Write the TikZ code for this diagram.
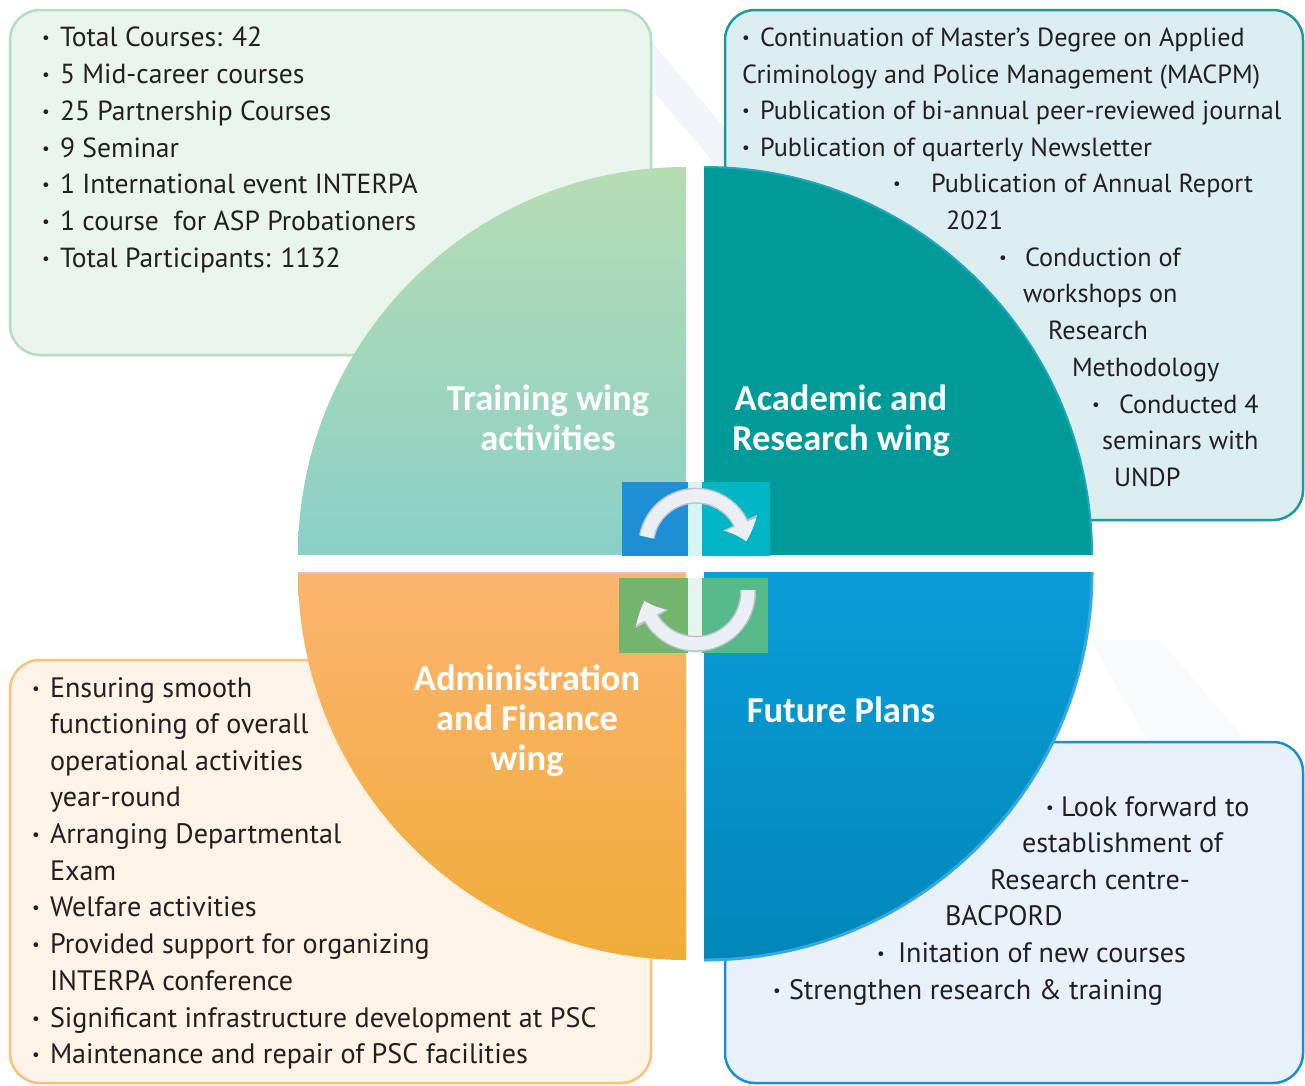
\documentclass[tikz,border=0pt]{standalone}
\usepackage{fontspec}
\setmainfont{PT Sans}
\newfontfamily\ttlfont{Carlito}
\usetikzlibrary{arrows.meta,bending}
\definecolor{ink}{HTML}{231F20}
\definecolor{streak}{HTML}{F1F5FA}
\definecolor{tlfill}{HTML}{E8F4EC}\definecolor{tlline}{HTML}{B3DCC0}
\definecolor{trfill}{HTML}{DCEDF0}\definecolor{trline}{HTML}{1A9A9C}
\definecolor{blfill}{HTML}{FDF3E6}\definecolor{blline}{HTML}{F9C27A}
\definecolor{brfill}{HTML}{E8F1FA}\definecolor{brline}{HTML}{1A8FD0}
\definecolor{qtltop}{HTML}{B6DCB3}\definecolor{qtlbot}{HTML}{8AD0C6}
\definecolor{qtr}{HTML}{009A99}\definecolor{qtrrim}{HTML}{1FA8BC}
\definecolor{qbltop}{HTML}{FBB46E}\definecolor{qblbot}{HTML}{F0AC38}\definecolor{qblrim}{HTML}{F7B9B0}
\definecolor{qbrtop}{HTML}{0A9DD8}\definecolor{qbrbot}{HTML}{0087B8}\definecolor{qbrrim}{HTML}{38A9E0}
\definecolor{sqblue}{HTML}{1E8FD5}\definecolor{sqcyan}{HTML}{00B5C5}
\definecolor{sqgreenA}{HTML}{72B56E}\definecolor{sqgreenB}{HTML}{55B98A}
\definecolor{arrowcol}{HTML}{EBEFF3}\definecolor{arrowedge}{HTML}{B9C3CC}
\newcommand\bulnode[3]{\node[body] (#1) at (#2,#3) {\raisebox{2.5pt}{\fontsize{17}{17}\selectfont •}};}
\begin{document}
\begin{tikzpicture}[x=1pt,y=-1pt,
  body/.style={anchor=base west, inner sep=0pt, outer sep=0pt, text=ink, font=\fontsize{27.6}{30}\selectfont},
  tlsz/.style={font=\fontsize{27.6}{30}\selectfont},
  trsz/.style={font=\fontsize{26.2}{30}\selectfont},
  blsz/.style={font=\fontsize{28.1}{30}\selectfont},
  brsz/.style={font=\fontsize{28.1}{30}\selectfont},
  ttl/.style={anchor=base, inner sep=0pt, text=white, font=\ttlfont\fontsize{36.5}{40}\selectfont\bfseries},
  infobox/.style={rounded corners=30pt, line width=2.5pt},
  arr/.style={line width=13pt, draw=arrowcol, -{Triangle[width=32pt,length=18pt,bend]}},
  arredge/.style={line width=16pt, draw=arrowedge, -{Triangle[width=36pt,length=20pt,bend]}}]
\useasboundingbox (0,0) rectangle (1305,1085);
\fill[white] (0,0) rectangle (1305,1085);
% faint background streaks
\fill[streak] (610,40) -- (650,40) -- (760,170) -- (720,170) -- cycle;
\fill[streak!50] (1090,640) -- (1160,640) -- (1250,745) -- (1150,745) -- cycle;
% info boxes
\draw[infobox, fill=tlfill, draw=tlline] (10,10) rectangle (651,355);
\draw[infobox, fill=trfill, draw=trline] (725,10) rectangle (1303,520);
\draw[infobox, fill=blfill, draw=blline] (10,660) rectangle (651,1083);
\draw[infobox, fill=brfill, draw=brline] (725,742) rectangle (1303,1083);
% quadrants
\shade[top color=qtltop, bottom color=qtlbot] (686,555) -- (298,555) arc[start angle=180, end angle=270, radius=388] -- cycle;
\fill[qtr] (704,555) -- (704,167) arc[start angle=270, end angle=360, radius=388] -- cycle;
\draw[qtrrim, line width=2pt] (704,167) arc[start angle=270, end angle=360, radius=388];
\shade[top color=qbltop, bottom color=qblbot] (686,572) -- (686,960) arc[start angle=90, end angle=180, radius=388] -- cycle;
\draw[qblrim, line width=2pt] (299,573) -- (686,573);
\shade[top color=qbrtop, bottom color=qbrbot] (704,572) -- (1092,572) arc[start angle=0, end angle=90, radius=388] -- cycle;
\draw[qbrrim, line width=3pt] (1092,572) arc[start angle=0, end angle=90, radius=388];
% centre squares
\fill[sqblue] (622,482) rectangle (688,556);
\fill[sqcyan] (702,482) rectangle (770,556);
\fill[white!85!sqcyan] (688,482) rectangle (702,556);
\fill[sqgreenA] (619,578) rectangle (688,653);
\fill[sqgreenB] (702,578) rectangle (768,653);
\fill[white!85!sqgreenB] (688,578) rectangle (702,653);
% cycle arrows
\coordinate (atop) at (646.8,537);
\coordinate (abot) at (748,590);
\draw[arredge] (atop) arc[start angle=190, end angle=355, radius=50];
\draw[arr] (atop) arc[start angle=190, end angle=355, radius=50];
\draw[arredge] (abot) arc[start angle=-2, end angle=170, radius=52];
\draw[arr] (abot) arc[start angle=-2, end angle=170, radius=52];
% titles
\node[ttl] (t1a) at (548,410) {Training wing};
\node[ttl] (t1b) at (548,450) {activities};
\node[ttl] (t2a) at (841,410) {Academic and};
\node[ttl] (t2b) at (841,450) {Research wing};
\node[ttl] (t3a) at (527,690) {Administration};
\node[ttl] (t3b) at (527,730) {and Finance};
\node[ttl] (t3c) at (527,770) {wing};
\node[ttl] (t4a) at (841,722) {Future Plans};
% top-left text
\bulnode{tlb1}{42}{46}\node[body,tlsz] (tl1) at (60,46) {Total Courses: 42};
\bulnode{tlb2}{42}{83}\node[body,tlsz] (tl2) at (60,83) {5 Mid-career courses};
\bulnode{tlb3}{42}{120}\node[body,tlsz] (tl3) at (60,120) {25 Partnership Courses};
\bulnode{tlb4}{42}{157}\node[body,tlsz] (tl4) at (60,157) {9 Seminar};
\bulnode{tlb5}{42}{193}\node[body,tlsz] (tl5) at (60,193) {1 International event INTERPA};
\bulnode{tlb6}{42}{230}\node[body,tlsz] (tl6) at (60,230) {1 course\ \ for ASP Probationers};
\bulnode{tlb7}{42}{267}\node[body,tlsz] (tl7) at (60,267) {Total Participants: 1132};
% top-right text
\bulnode{trb1}{742}{46}\node[body,trsz] (tr1) at (760,46) {Continuation of Master’s Degree on Applied};
\node[body,trsz] (tr2) at (742,83) {Criminology and Police Management (MACPM)};
\bulnode{trb3}{742}{119}\node[body,trsz] (tr3) at (760,119) {Publication of bi-annual peer-reviewed journal};
\bulnode{trb4}{742}{156}\node[body,trsz] (tr4) at (760,156) {Publication of quarterly Newsletter};
\bulnode{trb5}{893}{192}\node[body,trsz] (tr5) at (931,192) {Publication of Annual Report};
\node[body,trsz] (tr6) at (946,229) {2021};
\bulnode{trb7}{999}{266}\node[body,trsz] (tr7) at (1025,266) {Conduction of};
\node[body,trsz] (tr8) at (1023,302) {workshops on};
\node[body,trsz] (tr9) at (1048,339) {Research};
\node[body,trsz] (tr10) at (1072,376) {Methodology};
\bulnode{trb11}{1092}{413}\node[body,trsz] (tr11) at (1119,413) {Conducted 4};
\node[body,trsz] (tr12) at (1102,449) {seminars with};
\node[body,trsz] (tr13) at (1114,486) {UNDP};
% bottom-left text
\bulnode{blb1}{32}{697}\node[body,blsz] (bl1) at (50,697) {Ensuring smooth};
\node[body,blsz] (bl2) at (50,733) {functioning of overall};
\node[body,blsz] (bl3) at (50,770) {operational activities};
\node[body,blsz] (bl4) at (50,806) {year-round};
\bulnode{blb5}{32}{843}\node[body,blsz] (bl5) at (50,843) {Arranging Departmental};
\node[body,blsz] (bl6) at (50,880) {Exam};
\bulnode{blb7}{32}{916}\node[body,blsz] (bl7) at (50,916) {Welfare activities};
\bulnode{blb8}{32}{953}\node[body,blsz] (bl8) at (50,953) {Provided support for organizing};
\node[body,blsz] (bl9) at (50,990) {INTERPA conference};
\bulnode{blb10}{32}{1027}\node[body,blsz] (bl10) at (50,1027) {Significant infrastructure development at PSC};
\bulnode{blb11}{32}{1063}\node[body,blsz] (bl11) at (50,1063) {Maintenance and repair of PSC facilities};
% bottom-right text
\bulnode{brb1}{1046}{816}\node[body,brsz] (br1) at (1061,816) {Look forward to};
\node[body,brsz] (br2) at (1022,852) {establishment of};
\node[body,brsz] (br3) at (990,889) {Research centre-};
\node[body,brsz] (br4) at (945,925) {BACPORD};
\bulnode{brb5}{877}{962}\node[body,brsz] (br5) at (898,962) {Initation of new courses};
\bulnode{brb6}{773}{999}\node[body,brsz] (br6) at (789,999) {Strengthen research \& training};
\end{tikzpicture}
\end{document}
